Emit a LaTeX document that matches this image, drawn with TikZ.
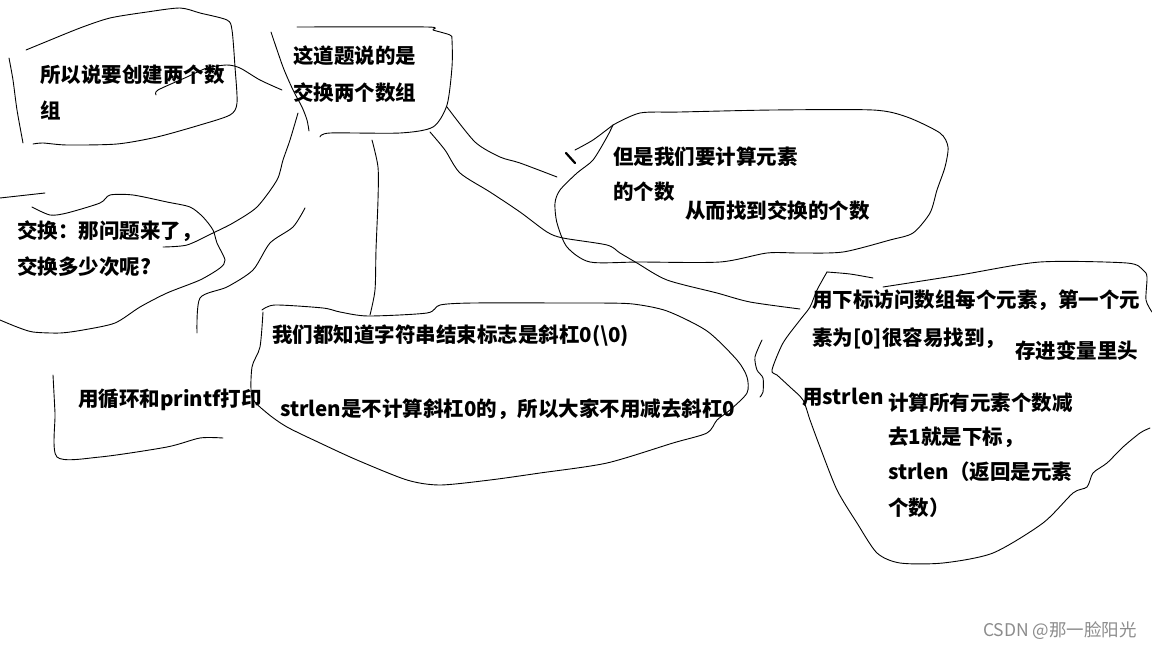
\documentclass[tikz,border=0pt]{standalone}
\usepackage{fontspec}
\setmainfont{Noto Sans CJK SC}
\usetikzlibrary{positioning}
\tikzset{
  note/.style={font=\bfseries\fontsize{20.5}{24}\selectfont, anchor=west, inner sep=0pt},
  ink/.style={line width=0.9pt, line cap=round, line join=round},
  wobble/.style={smooth, tension=0.45},
}
\begin{document}
\begin{tikzpicture}[x=1pt, y=-1pt]
\useasboundingbox[fill=white] (0,0) rectangle (1152,648);

\node[note] (ask1) at (40,75) {所以说要创建两个数};
\node[note] (ask2) at (40,110) {组};
\node[note] (topic1) at (293,56) {这道题说的是};
\node[note] (topic2) at (293,93) {交换两个数组};
\node[note] (swap1) at (17,231) {交换：那问题来了，};
\node[note] (swap2) at (17,267) {交换多少次呢?};
\node[note] (loop) at (78,400) {用循环和printf打印};
\node[note] (end1) at (272,336) {我们都知道字符串结束标志是斜杠0(\textbackslash0)};
\node[note] (end2) at (280,409) {strlen是不计算斜杠0的，所以大家不用减去斜杠0};
\node[note] (cnt1) at (613,157) {但是我们要计算元素};
\node[note] (cnt2) at (613,192) {的个数};
\node[note] (cnt3) at (685,211) {从而找到交换的个数};
\node[note] (idx1) at (812,300) {用下标访问数组每个元素，第一个元};
\node[note] (idx2) at (812,338) {素为[0]很容易找到，};
\node[note] (idx3) at (1015,351) {存进变量里头};
\node[note] (len0) at (802,397) {用strlen};
\node[note] (len1) at (888,403) {计算所有元素个数减};
\node[note] (len2) at (888,437) {去1就是下标，};
\node[note] (len3) at (888,472) {strlen（返回是元素};
\node[note] (len4) at (888,508) {个数）};
\node[anchor=east, inner sep=0pt, text=black!45, font=\fontsize{17.5}{20}\selectfont] (mark) at (1137,631) {CSDN @那一脸阳光};

% blobs
\draw[ink] plot[wobble] coordinates {(9,58) (13,80) (17,110) (23,143)};
\draw[ink] plot[wobble] coordinates {(26,50) (43,43) (80,28) (110,18) (147,12) (180,8) (200,13) (227,20) (232,30) (235,67) (237,103) (230,115) (200,125) (157,137) (117,144) (67,145) (43,143) (33,144)};
\draw[ink] plot[wobble] coordinates {(271,32) (283,67) (293,90) (302,107) (307,120) (309,131)};
\draw[ink] plot[wobble] coordinates {(297,27) (427,27) (433,30) (450,35) (452,40) (452,67) (447,105) (433,127) (400,133) (330,133) (320,137)};
\draw[ink] plot[wobble] coordinates {(0,198) (45,193)};
\draw[ink] plot[wobble] coordinates {(32,207) (50,215) (67,213) (100,203) (110,195) (133,195) (167,202) (190,207) (203,217) (213,230) (217,243) (225,260) (220,268) (200,280) (167,293) (140,307) (115,323) (83,330) (60,333) (33,332) (17,327) (0,320)};
\draw[ink] plot[wobble] coordinates {(53,375) (55,413) (57,457) (100,457) (167,447) (200,438) (223,438)};
\draw[ink] plot[wobble] coordinates {(262,310) (275,305) (323,308) (340,312) (368,316) (427,313) (440,305) (473,303) (573,303) (600,303) (633,304) (667,311) (707,331) (737,360) (747,377) (747,393) (730,410) (717,420) (707,433) (673,443) (607,463) (540,473) (490,480) (440,485) (407,480) (357,460) (320,443) (287,427) (267,413) (252,397) (252,367) (260,347) (263,312)};
\draw[ink] plot[wobble] coordinates {(762,340) (755,357) (757,370) (763,378) (763,392) (760,397)};
\draw[ink] plot[wobble] coordinates {(613,125) (640,113) (680,112) (773,110) (873,110) (907,117) (940,133) (948,147) (945,167) (937,190) (930,213) (913,233) (890,240) (843,252) (800,253) (767,253) (720,262) (640,262) (590,262) (567,247) (557,223) (555,203) (560,190) (577,173) (593,160) (607,137) (613,125)};
\draw[ink] plot[wobble] coordinates {(575,150) (593,140) (613,125)};
\draw[line width=2.2pt, line cap=round] (566,153) -- (575,163);
\draw[ink] plot[wobble] coordinates {(827,272) (850,274) (873,278)};
\draw[ink] plot[wobble] coordinates {(883,287) (960,275) (1040,262) (1127,263) (1143,270) (1147,277) (1146,300) (1152,312)};
\draw[ink] plot[wobble] coordinates {(827,272) (817,290) (810,307) (800,320) (783,343) (772,370) (777,375) (790,387) (803,400) (810,420) (820,447) (837,490) (857,523) (877,553) (900,563) (943,563) (993,553) (1043,523) (1073,493) (1087,487) (1093,473) (1107,463) (1123,447) (1140,433) (1150,428)};

% links
\draw[ink] plot[wobble] coordinates {(156,95) (158,90) (187,77) (207,68) (227,65) (240,68) (260,80) (282,90)};
\draw[ink] plot[wobble] coordinates {(298,113) (290,140) (283,160) (277,180) (257,207) (233,223) (213,233) (187,245) (163,247)};
\draw[ink] plot[wobble] coordinates {(372,140) (378,167) (378,200) (376,250) (375,290) (370,315)};
\draw[ink] plot[wobble] coordinates {(305,208) (293,227) (270,243) (253,270) (227,287) (200,298) (197,333)};
\draw[ink] plot[wobble] coordinates {(447,107) (475,142) (500,157) (520,163) (557,177)};
\draw[ink] plot[wobble] coordinates {(430,132) (445,150) (460,173) (490,192) (520,212) (547,232) (563,238) (607,245) (620,253) (637,263) (667,280) (717,293) (750,302) (800,309)};
\end{tikzpicture}
\end{document}
